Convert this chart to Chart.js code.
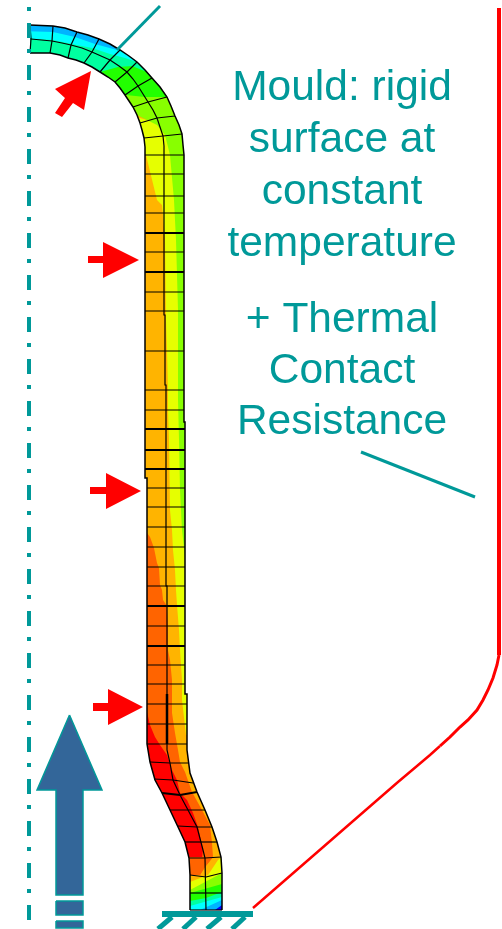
<!DOCTYPE html>
<html lang="en">

<head>
    <meta charset="UTF-8">
    <title>Mould: rigid surface at constant temperature</title>
    <script src="https://cdn.jsdelivr.net/npm/chart.js"></script>
    <style>
        html, body { margin: 0; padding: 0; background: #fff; }
        canvas { display: block; }
    </style>
</head>

<body>
    <canvas id="mouldChart" width="502" height="929"></canvas>

    <script type='text/javascript'>
        // all shapes are given in axis units (x 0-502, y 0-929 going down)
        const noteLines = ['Mould: rigid', 'surface at', 'constant', 'temperature', '+ Thermal', 'Contact', 'Resistance'];
        const noteBaselines = [100, 152, 204, 256, 332, 383, 434];
        const noteCentre = 342;

        // shell edges
        const innerEdge = [[30,53],[50,53],[60,55],[68,58],[76,60],[84,63],[92,67],[100,72],[108,77],[115,82],[120,88],[125,95],[129,101],[133,107],[137,115],[140,123],[142,130],[144,138],[145,147],[145,155],[145,478],[147,478],[147,744],[148,750],[150,762],[155,780],[162,793],[170,810],[178,827],[185,842],[189,858],[190,875],[190,910]];
        const middleLine = [[31,39],[52,41],[62,43],[71,45],[82,48],[92,52],[101,56],[110,60],[119,66],[127,72],[133,79],[138,86],[143,94],[148,102],[153,110],[157,118],[160,127],[163,136],[164,146],[164,155],[164,315],[165,315],[165,385],[166,385],[166,586],[167,586],[167,750],[170,763],[173,780],[180,795],[188,810],[197,827],[203,850],[205,858],[206,910]];
        const outerEdge = [[30,25],[53,26],[65,28],[77,32],[88,35],[99,39],[110,44],[120,50],[129,56],[137,62],[145,70],[152,78],[160,87],[167,97],[171,106],[175,116],[179,125],[182,134],[183,145],[184,155],[184,422],[185,422],[185,694],[187,694],[187,750],[190,773],[197,792],[205,810],[212,827],[217,842],[221,857],[222,873],[222,910]];
        const heavyMiddle = [[167,694],[167,744]];

        // element lines across the shell: inner, middle, outer
        const elementRows = [
            [[30,53],[31,39],[30,25]], [[50,53],[52,41],[53,26]], [[68,58],[71,45],[77,32]], [[84,63],[92,52],[99,39]],
            [[100,72],[110,60],[120,50]], [[115,82],[127,72],[137,62]], [[125,95],[138,86],[152,78]], [[133,107],[148,102],[167,97]],
            [[140,123],[157,118],[175,116]], [[144,138],[163,136],[182,134]], [[145,155],[164,155],[184,155]], [[145,174],[164,174],[184,174]],
            [[145,196],[164,196],[184,196]], [[145,213],[164,213],[184,213]], [[145,233],[164,233],[184,233]], [[145,252],[164,252],[184,252]],
            [[145,272],[164,272],[184,272]], [[145,292],[164,292],[184,292]], [[145,311],[164,311],[184,311]], [[145,351],[165,351],[184,351]],
            [[145,390],[166,390],[184,390]], [[145,410],[166,410],[184,410]], [[145,429],[166,429],[185,429]], [[145,450],[166,450],[185,450]],
            [[145,469],[166,469],[185,469]], [[147,488],[166,488],[185,488]], [[147,507],[166,507],[185,507]], [[147,527],[166,527],[185,527]],
            [[147,547],[166,547],[185,547]], [[147,567],[166,567],[185,567]], [[147,586],[167,586],[185,586]], [[147,606],[167,606],[185,606]],
            [[147,626],[167,626],[185,626]], [[147,646],[167,646],[185,646]], [[147,665],[167,665],[185,665]], [[147,684],[167,684],[185,684]],
            [[147,704],[167,704],[187,704]], [[147,724],[167,724],[187,724]], [[147,744],[167,744],[187,744]], [[150,762],[170,763],[188,763]],
            [[154,779],[173,780],[193,783]], [[162,793],[180,795],[197,792]], [[170,810],[188,810],[205,810]], [[178,826],[197,827],[212,827]],
            [[185,842],[200,842],[217,842]], [[189,858],[205,858],[221,857]], [[190,875],[206,877],[222,873]], [[190,893],[206,893],[222,893]],
            [[190,910],[206,910],[222,910]]
        ];
        const heavyRowYs = [233, 272, 429, 450, 469, 606, 646, 795];

        // temperature bands, each one painted over the ones before it
        const bandColours = ['#ffb400', '#e6ff00', '#88ff00', '#22ff00', '#00ffa0', '#00ffff', '#00b4ff',
            '#ff6400', '#ff0000', '#ff6400', '#e6ff00', '#88ff00', '#22ff00', '#00ffa0', '#00ffff', '#00b4ff', '#0000ff'];
        const bandOutlines = [
            [[20,10],[240,10],[240,929],[20,929]],
            [[130,115],[147,120],[240,120],[240,735],[186,735],[182,700],[182,680],[180,650],[179,630],[177,605],[176,590],[175,570],[173,550],[172,530],[170,510],[169,440],[168,410],[168,390],[167,350],[166,320],[165,240],[163,215],[162,205],[157,200],[146,155],[130,150]],
            [[20,10],[240,10],[240,557],[185,557],[182,530],[180,490],[179,440],[178,400],[178,310],[176,240],[174,200],[170,155],[165,135],[157,125],[147,120],[137,115],[20,115]],
            [[20,10],[240,10],[240,97],[165,97],[145,97],[126,95],[20,95]],
            [[20,10],[240,10],[240,72],[147,72],[132,66],[118,67],[100,72],[20,72]],
            [[20,10],[240,10],[240,62],[137,62],[125,58],[110,54],[92,48],[72,44],[53,40],[20,38]],
            [[20,10],[240,10],[240,50],[117,50],[95,44],[75,37],[53,32],[20,31]],
            [[130,535],[147,533],[150,537],[154,548],[157,563],[159,568],[160,585],[162,590],[163,600],[167,606],[168,625],[168,650],[170,660],[172,680],[172,713],[175,733],[178,750],[180,762],[185,772],[192,792],[202,810],[210,825],[212,843],[213,857],[205,867],[200,875],[130,875]],
            [[130,712],[147,712],[150,725],[155,737],[160,745],[167,755],[172,770],[177,780],[180,793],[187,800],[193,813],[198,827],[203,850],[202,858],[130,858]],
            [[120,875],[200,875],[205,867],[213,857],[120,857]],
            [[120,882],[190,882],[208,875],[218,860],[222,857],[240,857],[240,929],[120,929]],
            [[120,890],[190,890],[222,873],[240,873],[240,929],[120,929]],
            [[120,893],[190,893],[222,884],[240,884],[240,929],[120,929]],
            [[120,901],[190,901],[206,898],[222,892],[240,892],[240,929],[120,929]],
            [[120,906],[190,906],[222,897],[240,897],[240,929],[120,929]],
            [[200,910],[222,900],[240,900],[240,929],[200,929]],
            [[215,910],[222,905],[240,905],[240,929],[215,929]]
        ];

        const bigArrow = [[69.5,715],[102,790],[83,790],[83,895],[56,895],[56,790],[37,790]];
        const arrowDashes = [[[56,901],[83,901],[83,915],[56,915]], [[56,921],[83,921],[83,928],[56,928]]];
        const redArrows = [
            [[91,71],[55,89],[65,98],[55,113],[62,117],[73,103],[84,110]],
            [[139,260],[103,242],[103,256],[88,256],[88,263],[103,263],[103,278]],
            [[141,491],[106,473],[106,487],[90,487],[90,494],[106,494],[106,509]],
            [[143,707],[108,689],[108,703],[93,703],[93,711],[108,711],[108,725]]
        ];
        const axisLine = [[29,7],[29,922]];
        const leaderLines = [[[160,6],[117,50]], [[361,452],[475,497]]];
        const mouldWall = [[499,8],[499,655]];
        const mouldCurve = [[499,655],[497,665],[493,678],[488,690],[483,700],[477,710],[468,720],[460,727],[450,737],[440,746]];
        const mouldSlope = [[440,746],[430,755],[417,766],[398,782],[253,908]];
        const groundBar = [[162,911],[253,911],[253,917],[162,917]];
        const groundHatches = [[[172,917],[158,929]], [[196,917],[183,929]], [[221,917],[207,929]], [[245,917],[232,929]]];

        const teal = '#009999';
        const pts = list => list.map(p => ({ x: p[0], y: p[1] }));

        function lineSet(list, colour, width, extra) {
            return Object.assign({ data: pts(list), showLine: true, borderColor: colour, borderWidth: width, pointRadius: 0, fill: false, tension: 0 }, extra);
        }
        function shapeSet(list, colour, edge, width) {
            return lineSet(list.concat([list[0]]), edge || colour, width || 0, { fill: 'shape', backgroundColor: colour });
        }

        const datasets = [];
        bandOutlines.forEach((outline, i) => datasets.push(shapeSet(outline, bandColours[i])));

        // white cut-out so the bands only show inside the shell
        const shellPath = outerEdge.concat(innerEdge.slice().reverse());
        const sheet = [[0,0],[502,0],[502,929],[0,929],[0,0]];
        datasets.push(lineSet(sheet.concat(shellPath.slice().reverse(), [shellPath[shellPath.length - 1], [0,0]]), 'rgba(0,0,0,0)', 0, { fill: 'shape', backgroundColor: '#fff' }));

        [innerEdge, outerEdge].forEach(edge => datasets.push(lineSet(edge, '#000', 1.5)));
        datasets.push(lineSet(middleLine, '#000', 1.2));
        datasets.push(lineSet(heavyMiddle, '#000', 2.5));
        elementRows.forEach(row => datasets.push(lineSet(row, '#000', heavyRowYs.includes(row[1][1]) ? 2 : 1.2)));

        datasets.push(lineSet(axisLine, teal, 4, { borderDash: [4, 12, 15, 11] }));
        leaderLines.forEach(l => datasets.push(lineSet(l, teal, 3)));
        datasets.push(shapeSet(bigArrow, '#336699', teal, 1.5));
        arrowDashes.forEach(d => datasets.push(shapeSet(d, '#336699', teal, 1.5)));
        redArrows.forEach(a => datasets.push(shapeSet(a, '#ff0000')));
        datasets.push(lineSet(mouldWall, '#ff0000', 4));
        datasets.push(lineSet(mouldCurve, '#ff0000', 3));
        datasets.push(lineSet(mouldSlope, '#ff0000', 2.5));
        datasets.push(shapeSet(groundBar, teal));
        groundHatches.forEach(h => datasets.push(lineSet(h, teal, 5)));

        // later datasets go on top
        datasets.forEach((d, i) => { d.order = -i; });

        const noteText = {
            id: 'noteText',
            afterDatasetsDraw(chart) {
                const ctx = chart.ctx;
                ctx.save();
                ctx.fillStyle = teal;
                ctx.font = '42.5px "Liberation Sans", Arial, sans-serif';
                ctx.textAlign = 'center';
                noteLines.forEach((line, i) => {
                    ctx.fillText(line, chart.scales.x.getPixelForValue(noteCentre), chart.scales.y.getPixelForValue(noteBaselines[i]));
                });
                ctx.restore();
            }
        };

        new Chart(document.getElementById('mouldChart'), {
            type: 'scatter',
            data: { datasets: datasets },
            options: {
                responsive: false,
                animation: false,
                layout: { padding: 0 },
                plugins: { legend: { display: false }, tooltip: { enabled: false } },
                scales: {
                    x: { type: 'linear', min: 0, max: 502, display: false },
                    y: { type: 'linear', min: 0, max: 929, reverse: true, display: false }
                }
            },
            plugins: [noteText]
        });
    </script>

</body>

</html>
